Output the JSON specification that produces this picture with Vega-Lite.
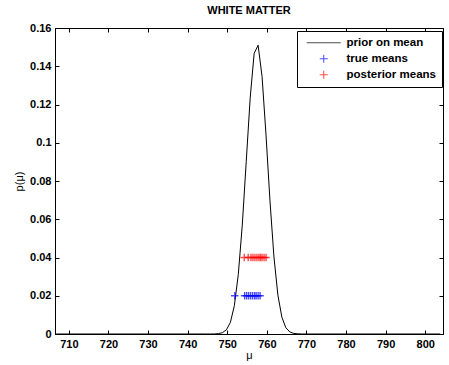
{
  "$schema": "https://vega.github.io/schema/vega-lite/v6.json",
  "width": 388,
  "height": 306,
  "autosize": "none",
  "padding": {"left": 55, "top": 28, "right": 6, "bottom": 31},
  "background": "white",
  "title": {"text": "WHITE MATTER", "font": "Liberation Sans", "fontSize": 11, "fontWeight": "bold", "color": "black", "offset": 6, "anchor": "middle"},
  "config": {
    "view": {"stroke": "black", "strokeWidth": 1},
    "axis": {
      "grid": false,
      "domainColor": "black",
      "tickColor": "black",
      "tickSize": -4,
      "labelFont": "Liberation Sans",
      "labelFontSize": 11,
      "labelFontWeight": "bold",
      "labelColor": "black",
      "titleFont": "Liberation Sans",
      "titleFontSize": 11,
      "titleFontWeight": "normal",
      "titleColor": "black"
    }
  },
  "datasets": {
    "curve": [
      {"mu": 706.8, "p": 0, "series": "prior on mean"},
      {"mu": 744.8, "p": 0, "series": "prior on mean"},
      {"mu": 745.8, "p": 0.0, "series": "prior on mean"},
      {"mu": 746.8, "p": 0.00003, "series": "prior on mean"},
      {"mu": 747.8, "p": 0.0002, "series": "prior on mean"},
      {"mu": 748.8, "p": 0.0007, "series": "prior on mean"},
      {"mu": 749.8, "p": 0.0022, "series": "prior on mean"},
      {"mu": 750.8, "p": 0.0061, "series": "prior on mean"},
      {"mu": 751.8, "p": 0.0148, "series": "prior on mean"},
      {"mu": 752.8, "p": 0.0312, "series": "prior on mean"},
      {"mu": 753.8, "p": 0.0569, "series": "prior on mean"},
      {"mu": 754.8, "p": 0.0901, "series": "prior on mean"},
      {"mu": 755.8, "p": 0.1235, "series": "prior on mean"},
      {"mu": 756.8, "p": 0.1467, "series": "prior on mean"},
      {"mu": 757.8, "p": 0.1510, "series": "prior on mean"},
      {"mu": 758.8, "p": 0.1346, "series": "prior on mean"},
      {"mu": 759.8, "p": 0.1040, "series": "prior on mean"},
      {"mu": 760.8, "p": 0.0696, "series": "prior on mean"},
      {"mu": 761.8, "p": 0.0403, "series": "prior on mean"},
      {"mu": 762.8, "p": 0.0203, "series": "prior on mean"},
      {"mu": 763.8, "p": 0.0088, "series": "prior on mean"},
      {"mu": 764.8, "p": 0.0033, "series": "prior on mean"},
      {"mu": 765.8, "p": 0.0011, "series": "prior on mean"},
      {"mu": 766.8, "p": 0.0003, "series": "prior on mean"},
      {"mu": 767.8, "p": 0.0001, "series": "prior on mean"},
      {"mu": 768.8, "p": 0, "series": "prior on mean"},
      {"mu": 803.8, "p": 0, "series": "prior on mean"}
    ],
    "marks": [
      {"mu": 751.9, "p": 0.02, "series": "true means"},
      {"mu": 754.4, "p": 0.02, "series": "true means"},
      {"mu": 754.9, "p": 0.02, "series": "true means"},
      {"mu": 755.4, "p": 0.02, "series": "true means"},
      {"mu": 755.9, "p": 0.02, "series": "true means"},
      {"mu": 756.4, "p": 0.02, "series": "true means"},
      {"mu": 756.9, "p": 0.02, "series": "true means"},
      {"mu": 757.3, "p": 0.02, "series": "true means"},
      {"mu": 757.8, "p": 0.02, "series": "true means"},
      {"mu": 758.3, "p": 0.02, "series": "true means"},
      {"mu": 754.3, "p": 0.04, "series": "posterior means"},
      {"mu": 755.3, "p": 0.04, "series": "posterior means"},
      {"mu": 756.0, "p": 0.04, "series": "posterior means"},
      {"mu": 756.5, "p": 0.04, "series": "posterior means"},
      {"mu": 757.0, "p": 0.04, "series": "posterior means"},
      {"mu": 757.5, "p": 0.04, "series": "posterior means"},
      {"mu": 758.0, "p": 0.04, "series": "posterior means"},
      {"mu": 758.4, "p": 0.04, "series": "posterior means"},
      {"mu": 758.8, "p": 0.04, "series": "posterior means"},
      {"mu": 759.3, "p": 0.04, "series": "posterior means"},
      {"mu": 759.8, "p": 0.04, "series": "posterior means"}
    ]
  },
  "layer": [
    {
      "data": {"name": "curve"},
      "mark": {"type": "line", "strokeWidth": 1, "clip": true, "color": "black"},
      "encoding": {
        "x": {"field": "mu", "type": "quantitative", "scale": {"domain": [706.5, 804.5], "nice": false, "zero": false},
              "axis": {"orient": "bottom", "values": [710, 720, 730, 740, 750, 760, 770, 780, 790, 800], "title": "μ", "labelPadding": 8, "titlePadding": 0}},
        "y": {"field": "p", "type": "quantitative", "scale": {"domain": [0, 0.16], "nice": false},
              "axis": {"orient": "left", "values": [0, 0.02, 0.04, 0.06, 0.08, 0.1, 0.12, 0.14, 0.16], "format": "~g", "title": "p(μ)", "labelPadding": 8, "titlePadding": 5}}
      }
    },
    {
      "data": {"name": "marks"},
      "mark": {"type": "point", "filled": false, "strokeWidth": 1.4, "size": 56},
      "encoding": {
        "x": {"field": "mu", "type": "quantitative", "axis": null},
        "y": {"field": "p", "type": "quantitative", "axis": null},
        "color": {"field": "series", "type": "nominal",
                  "scale": {"domain": ["prior on mean", "true means", "posterior means"], "range": ["black", "blue", "red"]},
                  "legend": {"title": null, "orient": "none", "legendX": 242, "legendY": 3,
                             "strokeColor": "black", "fillColor": "white", "padding": 6,
                             "labelFont": "Liberation Sans", "labelFontSize": 11.5, "labelFontWeight": "bold", "labelColor": "black",
                             "symbolStrokeWidth": 1, "symbolFillColor": "transparent", "symbolSize": 64, "symbolOffset": 15, "rowPadding": 3, "labelOffset": 17,
                             "encode": {"symbols": {"update": {"stroke": {"scale": "color", "field": "value"}}}}}},
        "shape": {"field": "series", "type": "nominal",
                  "scale": {"domain": ["prior on mean", "true means", "posterior means"], "range": ["M-4.25,0H4.25", "M-1,0H1M0,-1V1", "M-1,0H1M0,-1V1"]}}
      }
    },
    {
      "data": {"name": "curve"},
      "mark": {"type": "line", "opacity": 0},
      "encoding": {
        "x": {"field": "mu", "type": "quantitative", "axis": {"orient": "top", "labels": false, "title": null, "values": [710, 720, 730, 740, 750, 760, 770, 780, 790, 800]}},
        "y": {"field": "p", "type": "quantitative", "axis": {"orient": "right", "labels": false, "title": null, "values": [0, 0.02, 0.04, 0.06, 0.08, 0.1, 0.12, 0.14, 0.16]}}
      }
    }
  ],
  "resolve": {"axis": {"x": "independent", "y": "independent"}}
}
